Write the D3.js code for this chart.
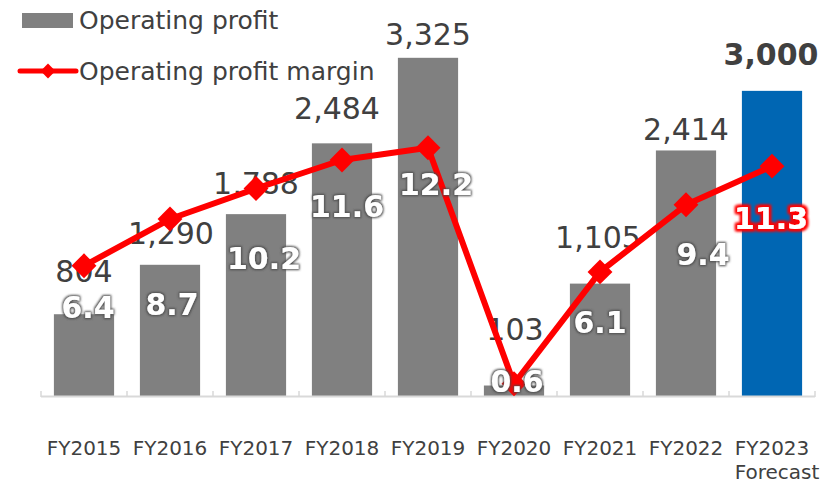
<html>
<head>
<script src="https://d3js.org/d3.v7.min.js"></script>
<style>
  body { margin: 0; background: #fff; }
  text { font-family: "DejaVu Sans", Verdana, sans-serif; }
</style>
</head>
<body>
<div id="chart"></div>
<script>
// data
var years = ["FY2015", "FY2016", "FY2017", "FY2018", "FY2019", "FY2020", "FY2021", "FY2022", "FY2023"];
var profit = [804, 1290, 1788, 2484, 3325, 103, 1105, 2414, 3000];
var profitMargin = [6.4, 8.7, 10.2, 11.6, 12.2, 0.6, 6.1, 9.4, 11.3];
var forecastIndex = 8;
var forecastNote = "Forecast";

var W = 838, H = 485;
var base = 396, top_ = 40;

var svg = d3.select("#chart").append("svg")
  .attr("width", W).attr("height", H);

// glow filters for the margin labels
var defs = svg.append("defs");
function glow(id, color, r, blur, strong) {
  var f = defs.append("filter").attr("id", id)
    .attr("x", "-20%").attr("y", "-30%").attr("width", "140%").attr("height", "160%");
  f.append("feMorphology").attr("in", "SourceAlpha").attr("operator", "dilate").attr("radius", r).attr("result", "d");
  f.append("feGaussianBlur").attr("in", "d").attr("stdDeviation", blur).attr("result", "b");
  f.append("feFlood").attr("flood-color", color);
  f.append("feComposite").attr("in2", "b").attr("operator", "in").attr("result", "g");
  var m = f.append("feMerge");
  m.append("feMergeNode").attr("in", "g");
  if (strong) m.append("feMergeNode").attr("in", "g");
  m.append("feMergeNode").attr("in", "SourceGraphic");
}
glow("glowGray", "#4a4a4a", 1, 1.3, false);
glow("glowRed", "#ff0000", 2, 1.5, true);

var x = d3.scaleBand().domain(years).range([41, 815])
  .paddingInner(0.3).paddingOuter(0.15);
var y = d3.scaleLinear().domain([0, 3500]).range([base, top_]);
var y2 = d3.scaleLinear().domain([0, 17.5]).range([base, top_]);

// bars
svg.selectAll(".bar").data(profit).enter().append("rect")
  .attr("x", function(d, i) { return x(years[i]); })
  .attr("y", function(d) { return y(d); })
  .attr("width", x.bandwidth())
  .attr("height", function(d) { return base - y(d); })
  .attr("fill", function(d, i) { return i == forecastIndex ? "#0066b3" : "#808080"; });

// axis line with tick marks at the category edges
var step = x.step();
svg.append("line").attr("x1", 41).attr("x2", 815).attr("y1", base + 0.5).attr("y2", base + 0.5)
  .attr("stroke", "#d9d9d9").attr("stroke-width", 2);
svg.selectAll(".tick").data(d3.range(years.length + 1)).enter().append("line")
  .attr("x1", function(i) { return 41 + i * step; })
  .attr("x2", function(i) { return 41 + i * step; })
  .attr("y1", base - 5).attr("y2", base + 1)
  .attr("stroke", "#d9d9d9").attr("stroke-width", 1.5);

// category labels
var cx = function(i) { return x(years[i]) + x.bandwidth() / 2; };
svg.selectAll(".cat").data(years).enter().append("text")
  .attr("x", function(d, i) { return cx(i); })
  .attr("y", 455)
  .attr("text-anchor", "middle")
  .attr("font-size", 20)
  .attr("fill", "#404040")
  .text(function(d) { return d; });
svg.append("text")
  .attr("x", cx(forecastIndex) + 5).attr("y", 479)
  .attr("text-anchor", "middle").attr("font-size", 20).attr("fill", "#404040")
  .text(forecastNote);

// bar value labels (hand-placed in the original, so nudged here)
var barDy = [-32, -21, -20, -24, -13, -46, -36, -10, -26];
var barDx = [0, 1, 0, -5, 0, 1, -2, 0, -1];
svg.selectAll(".blab").data(profit).enter().append("text")
  .attr("x", function(d, i) { return cx(i) + barDx[i]; })
  .attr("y", function(d, i) { return y(d) + barDy[i]; })
  .attr("text-anchor", "middle")
  .attr("font-size", 30)
  .attr("font-weight", function(d, i) { return i == forecastIndex ? "bold" : "normal"; })
  .attr("fill", "#404040")
  .text(function(d) { return d3.format(",")(d); });

// margin line
var line = d3.line()
  .x(function(d, i) { return cx(i); })
  .y(function(d) { return y2(d); });
svg.append("path").datum(profitMargin)
  .attr("d", line)
  .attr("fill", "none").attr("stroke", "#ff0000").attr("stroke-width", 6)
  .attr("stroke-linejoin", "round");
svg.selectAll(".mark").data(profitMargin).enter().append("path")
  .attr("d", d3.symbol(d3.symbolSquare, 310))
  .attr("transform", function(d, i) { return "translate(" + cx(i) + "," + y2(d) + ") rotate(45)"; })
  .attr("fill", "#ff0000");

// margin labels
var pctDy = [52, 96, 80, 57, 47, 8, 61, 60, 63];
var pctDx = [4, 2, 8, 5, 8, 3, 0, 17, -1];
svg.selectAll(".plab").data(profitMargin).enter().append("text")
  .attr("x", function(d, i) { return cx(i) + pctDx[i]; })
  .attr("y", function(d, i) { return y2(d) + pctDy[i]; })
  .attr("text-anchor", "middle")
  .attr("font-size", 30)
  .attr("font-weight", "bold")
  .attr("fill", "#ffffff")
  .attr("filter", function(d, i) { return i == forecastIndex ? "url(#glowRed)" : "url(#glowGray)"; })
  .text(function(d) { return d3.format(".1f")(d); });

// legend
var lg = svg.append("g");
lg.append("rect").attr("x", 22).attr("y", 13).attr("width", 51).attr("height", 15).attr("fill", "#808080");
lg.append("text").attr("x", 79).attr("y", 29).attr("font-size", 25).attr("fill", "#404040").text("Operating profit");
lg.append("line").attr("x1", 20).attr("x2", 76).attr("y1", 71).attr("y2", 71)
  .attr("stroke", "#ff0000").attr("stroke-width", 5).attr("stroke-linecap", "round");
lg.append("path").attr("d", d3.symbol(d3.symbolSquare, 110))
  .attr("transform", "translate(48,71) rotate(45)").attr("fill", "#ff0000");
lg.append("text").attr("x", 79).attr("y", 80).attr("font-size", 25).attr("fill", "#404040").text("Operating profit margin");
</script>
</body>
</html>
